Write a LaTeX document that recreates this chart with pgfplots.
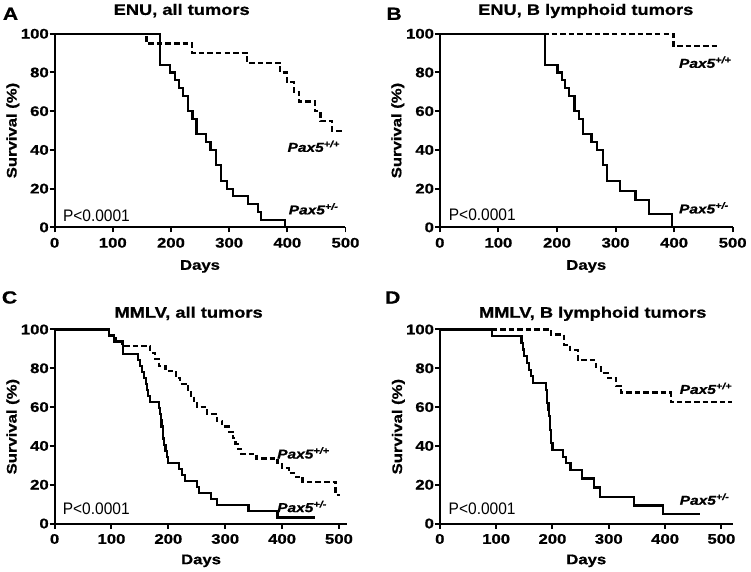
\documentclass[border=0pt]{standalone}
\usepackage{fontspec}
\setmainfont{Liberation Sans}[FakeStretch=1.2, BoldFeatures={FakeBold=0.8}, BoldItalicFeatures={FakeBold=0.8}]
\newfontfamily\plainfont{Liberation Sans}[FakeStretch=0.93]
\usepackage{pgfplots}
\pgfplotsset{compat=1.18}
\pgfplotsset{
 km/.style={
  scale only axis, clip=false,
  axis lines=left, axis line style={-, line width=1.5pt},
  xmin=0, ymin=0, ymax=100,
  xtick={0,100,...,500}, ytick={0,20,...,100},
  tick align=outside, major tick length=3.75pt,
  tick style={black, line width=1.5pt},
  /pgf/number format/assume math mode=true,
  ticklabel style={font=\bfseries\fontsize{10.5}{12}\selectfont},
  yticklabel style={inner xsep=0.5pt},
  xticklabel style={inner ysep=4pt},
  enlargelimits=false,
 },
 solidkm/.style={const plot, black, line width=1.6pt},
 dashkm/.style={const plot, black, line width=1.6pt, dash pattern=on 4.2pt off 2.3pt},
}
\tikzset{
 paxlab/.style={anchor=base west, inner sep=0pt, font=\bfseries\itshape\fontsize{9.75}{11}\selectfont},
 plab/.style={anchor=base west, inner sep=0pt, font=\plainfont\fontsize{12.6}{14}\selectfont},
}
\begin{document}
\begin{tikzpicture}
\path (0,0) rectangle (563.25pt,-432pt);
% ---------- A ----------
\begin{axis}[km, at={(41.25pt,-171.75pt)}, anchor=south west, width=219.75pt, height=146.25pt, xmax=500]
\addplot[dashkm] coordinates {(0,100)(158,95)(236,90)(331,85)(388,80)(399,75)(411,70)(420,65)(447,60)(457,55)(477,50)(498,50)};
\addplot[solidkm] coordinates {(0,100)(181,84)(199,80)(207,76)(214,72)(220,68)(230,60)(237,56)(244,48)(260,44)(268,40)(278,32)(286,24)(296,20)(307,16)(332,12)(349,8)(355,4)(396,0)};
\node[paxlab] at (axis cs:400,39) {Pax5\textsuperscript{+/+}};
\node[paxlab] at (axis cs:402,6.7) {Pax5\textsuperscript{+/-}};
\node[plab] at (axis cs:14,3.2) {P<0.0001};
\end{axis}
% ---------- B ----------
\begin{axis}[km, at={(332.25pt,-171.75pt)}, anchor=south west, width=221.25pt, height=146.25pt, xmax=500]
\addplot[dashkm] coordinates {(0,100)(399,93.7)(478,93.7)};
\addplot[solidkm] coordinates {(0,100)(180,84)(201,80)(209,76)(214,72)(221,68)(230,60)(238,56)(245,48)(259,44)(269,40)(278,32)(286,24)(308,19)(334,14.3)(357,7.1)(396,0)};
\node[paxlab] at (axis cs:408,82.4) {Pax5\textsuperscript{+/+}};
\node[paxlab] at (axis cs:408,7.2) {Pax5\textsuperscript{+/-}};
\node[plab] at (axis cs:15,3.5) {P<0.0001};
\end{axis}
% ---------- C ----------
\begin{axis}[km, at={(41.25pt,-395.5pt)}, anchor=south west, width=221.25pt, height=146.6pt, xmax=515]
\addplot[dashkm] coordinates {(0,100)(96,97)(108,94)(118,91.5)(168,88)(177,85)(184,81)(195,78.5)(214,75)(221,72)(235,69)(240,66)(245,63)(250,60)(268,56.5)(285,53)(295,50)(306,47)(313,44)(318,41)(322,38.5)(328,36)(355,33.5)(392,31)(400,28.5)(412,26)(424,24)(436,21.6)(494,14.8)(502,14.8)};
\addplot[solidkm] coordinates {(0,100)(96,96.9)(104,93.8)(120,87.5)(146,84.4)(150,81.3)(153,78.1)(157,75)(160,71.9)(163,68.8)(165,65.6)(167,62.5)(183,59.4)(185,56.3)(187,53.1)(188,50)(190,46.9)(191,43.8)(193,40.6)(195,37.5)(197,34.4)(200,31.3)(218,28.1)(224,25)(230,21.9)(251,18.8)(254,15.6)(275,12.5)(285,9.4)(341,6.25)(392,3.1)(458,3.1)};
\node[paxlab] at (axis cs:391,33.5) {Pax5\textsuperscript{+/+}};
\node[paxlab] at (axis cs:391,5.9) {Pax5\textsuperscript{+/-}};
\node[plab] at (axis cs:14,4.6) {P<0.0001};
\end{axis}
% ---------- D ----------
\begin{axis}[km, at={(332.25pt,-395.5pt)}, anchor=south west, width=221.25pt, height=146.6pt, xmax=520]
\addplot[dashkm] coordinates {(0,100)(197,97.4)(220,92.1)(231,89.5)(245,84.2)(277,80.5)(286,77.5)(298,74.8)(313,71)(322,67.5)(410,62.5)(518,62.5)};
\addplot[solidkm] coordinates {(0,100)(93,96.6)(145,93.1)(148,89.7)(150,86.2)(155,82.8)(158,79.3)(162,75.9)(165,72.4)(188,69)(190,65.5)(191,62.1)(193,58.6)(194,55.2)(195,51.7)(196,48.3)(197,44.8)(198,41.4)(200,37.9)(218,34.5)(224,31)(232,27.6)(253,23.2)(274,18.6)(284,13.8)(345,9.3)(396,4.7)(462,4.7)};
\node[paxlab] at (axis cs:425.5,66.8) {Pax5\textsuperscript{+/+}};
\node[paxlab] at (axis cs:425.5,9.7) {Pax5\textsuperscript{+/-}};
\node[plab] at (axis cs:15.4,4.6) {P<0.0001};
\end{axis}
% ---------- titles, letters, labels ----------
\begin{scope}[every node/.style={inner sep=0pt}]
\node[anchor=base, font=\bfseries\fontsize{11.5}{13}\selectfont] at (137.25pt,-11.25pt) {ENU, all tumors};
\node[anchor=base, font=\bfseries\fontsize{11.5}{13}\selectfont] at (442.5pt,-11.25pt) {ENU, B lymphoid tumors};
\node[anchor=base, font=\bfseries\fontsize{11.5}{13}\selectfont] at (142.5pt,-240pt) {MMLV, all tumors};
\node[anchor=base, font=\bfseries\fontsize{11.5}{13}\selectfont] at (447.75pt,-240pt) {MMLV, B lymphoid tumors};
\node[anchor=base west, font=\bfseries\fontsize{13.3}{15}\selectfont] at (2pt,-15pt) {A};
\node[anchor=base west, font=\bfseries\fontsize{13.3}{15}\selectfont] at (291.75pt,-15pt) {B};
\node[anchor=base west, font=\bfseries\fontsize{13.3}{15}\selectfont] at (1.25pt,-229.3pt) {C};
\node[anchor=base west, font=\bfseries\fontsize{13.3}{15}\selectfont] at (290.75pt,-229.3pt) {D};
\node[anchor=base, font=\bfseries\fontsize{10.5}{12}\selectfont] at (151.1pt,-203.8pt) {Days};
\node[anchor=base, font=\bfseries\fontsize{10.5}{12}\selectfont] at (442.9pt,-203.8pt) {Days};
\node[anchor=base, font=\bfseries\fontsize{10.5}{12}\selectfont] at (151.9pt,-426.2pt) {Days};
\node[anchor=base, font=\bfseries\fontsize{10.5}{12}\selectfont] at (442.9pt,-426.2pt) {Days};
\node[anchor=base, rotate=90, font=\bfseries\fontsize{10.5}{12}\selectfont] at (12.5pt,-98.6pt) {Survival (\%)};
\node[anchor=base, rotate=90, font=\bfseries\fontsize{10.5}{12}\selectfont] at (303.2pt,-98.6pt) {Survival (\%)};
\node[anchor=base, rotate=90, font=\bfseries\fontsize{10.5}{12}\selectfont] at (12.5pt,-322.3pt) {Survival (\%)};
\node[anchor=base, rotate=90, font=\bfseries\fontsize{10.5}{12}\selectfont] at (303.7pt,-322.3pt) {Survival (\%)};
\end{scope}
\end{tikzpicture}
\end{document}
